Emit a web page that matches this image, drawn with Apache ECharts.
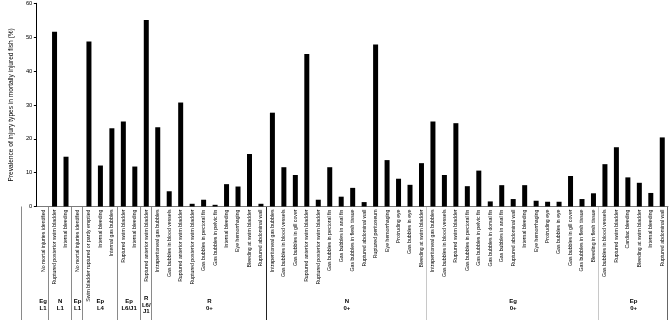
<!DOCTYPE html>
<html>
<head>
<meta charset="utf-8">
<script src="https://cdn.jsdelivr.net/npm/echarts@6/dist/echarts.min.js"></script>
<style>
html,body{margin:0;padding:0;background:#fff;}
#chart{width:669px;height:320px;}
</style>
</head>
<body>
<div id="chart"></div>
<script>
var categories = [
  'No mortal injuries identified',
  'Ruptured posterior swim bladder','Internal bleeding',
  'No mortal injuries identified',
  'Swim bladder ruptured or partly emptied','Internal bleeding','Internal gas bubbles',
  'Ruptured swim bladder','Internal bleeding',
  'Ruptured anterior swim bladder',
  'Intraperitoneal gas bubbles','Gas bubbles in blood vessels','Ruptured anterior swim bladder','Ruptured posterior swim bladder','Gas bubbles in pectoral fin','Gas bubbles in pelvic fin','Internal bleeding','Eye hemorrhaging','Bleeding at swim bladder','Ruptured abdominal wall',
  'Intraperitoneal gas bubbles','Gas bubbles in blood vessels','Gas bubbles in gill cover','Ruptured anterior swim bladder','Ruptured posterior swim bladder','Gas bubbles in pectoral fin','Gas bubbles in anal fin','Gas bubbles in flesh tissue','Ruptured abdominal wall','Ruptured peritoneum','Eye hemorrhaging','Protruding eye','Gas bubbles in eye','Bleeding at swim bladder',
  'Intraperitoneal gas bubbles','Gas bubbles in blood vessels','Ruptured swim bladder','Gas bubbles in pectoral fin','Gas bubbles in pelvic fin','Gas bubbles in dorsal fin','Gas bubbles in anal fin','Ruptured abdominal wall','Internal bleeding','Eye hemorrhaging','Protruding eye','Gas bubbles in eye','Gas bubbles in gill cover','Gas bubbles in flesh tissue','Bleeding in flesh tissue',
  'Gas bubbles in blood vessels','Ruptured swim bladder','Cardiac bleeding','Bleeding at swim bladder','Internal bleeding','Ruptured abdominal wall'
];
var values = [
  0,
  51.6, 14.7,
  0,
  48.7, 12.1, 23.1,
  25.1, 11.8,
  55.1,
  23.4, 4.5, 30.7, 0.8, 2.0, 0.5, 6.6, 5.9, 15.5, 0.8,
  27.7, 11.6, 9.3, 45.0, 2.0, 11.6, 2.9, 5.5, 1.3, 47.8, 13.7, 8.2, 6.4, 12.8,
  25.1, 9.3, 24.6, 6.0, 10.6, 1.5, 6.3, 2.2, 6.3, 1.7, 1.4, 1.4, 9.0, 2.2, 3.9,
  12.5, 17.5, 8.6, 7.0, 4.0, 20.4
];
var groupLabels = ['Eg\nL1','N\nL1','Ep\nL1','Ep\nL4','Ep\nL6/J1','R\nL6/\nJ1','R\n0+','N\n0+','Eg\n0+','Ep\n0+'];
var groupSizes = [1, 2, 1, 3, 2, 1, 10, 14, 15, 6];
var yTicks = [0, 10, 20, 30, 40, 50, 60];
var yName = 'Prevalence of injury types in mortally injured fish (%)';

var FONT = 'Liberation Sans, Arial, sans-serif';
var chart = echarts.init(document.getElementById('chart'), null, {renderer: 'canvas'});
var option = {
  animation: false,
  backgroundColor: '#fff',
  grid: {left: 22.5, right: 1, top: 3.3, bottom: 113.5, containLabel: false},
  xAxis: {
    type: 'category',
    data: categories,
    axisLine: {show: true, lineStyle: {color: '#7a7a7a', width: 1}},
    axisTick: {show: false},
    axisLabel: {interval: 0, rotate: 90, fontSize: 5.2, margin: 3, color: '#000', fontFamily: FONT}
  },
  yAxis: {
    type: 'value',
    min: yTicks[0], max: yTicks[yTicks.length - 1], interval: 10,
    offset: 1,
    name: yName,
    nameLocation: 'middle',
    nameGap: 18.5,
    nameTextStyle: {fontSize: 6.6, color: '#000', fontFamily: FONT},
    axisLine: {show: true, lineStyle: {color: '#000', width: 1}},
    axisTick: {show: true, length: 2.5, lineStyle: {color: '#000'}},
    axisLabel: {fontSize: 5.8, margin: 4, color: '#000', fontFamily: FONT},
    splitLine: {show: false}
  },
  series: [{
    type: 'bar',
    data: values,
    barWidth: 5,
    itemStyle: {color: '#000'}
  }]
};
chart.setOption(option);

// separators and group labels, positioned from the category axis scale
var c0 = chart.convertToPixel({xAxisIndex: 0}, 0);
var c1 = chart.convertToPixel({xAxisIndex: 0}, 1);
var w = c1 - c0;
var y0 = chart.convertToPixel({yAxisIndex: 0}, 0);
var H = chart.getHeight();
function boundaryX(b) { return c0 + (b - 0.5) * w; }
var sepColors = ['#8a8a8a','#8a8a8a','#8a8a8a','#8a8a8a','#8a8a8a','#8a8a8a','#222','#c8c8c8','#c8c8c8','#666'];
var elements = [];
elements.push({type: 'line', shape: {x1: 21.5, y1: y0, x2: 21.5, y2: H}, style: {stroke: '#8a8a8a', lineWidth: 1}});
var start = 0;
for (var g = 0; g < groupSizes.length; g++) {
  var end = start + groupSizes[g];
  var bx = Math.round(boundaryX(end)) - 0.5;
  elements.push({type: 'line', shape: {x1: bx, y1: y0, x2: bx, y2: H}, style: {stroke: sepColors[g], lineWidth: 1}});
  var cx = c0 + (start + groupSizes[g] / 2 - 0.5) * w;
  elements.push({type: 'text', x: cx, y: 305, style: {
    text: groupLabels[g], font: 'bold 6px ' + FONT, fill: '#000',
    align: 'center', verticalAlign: 'middle', lineHeight: 6.7
  }});
  start = end;
}
chart.setOption({graphic: {elements: elements}});
</script>
</body>
</html>
